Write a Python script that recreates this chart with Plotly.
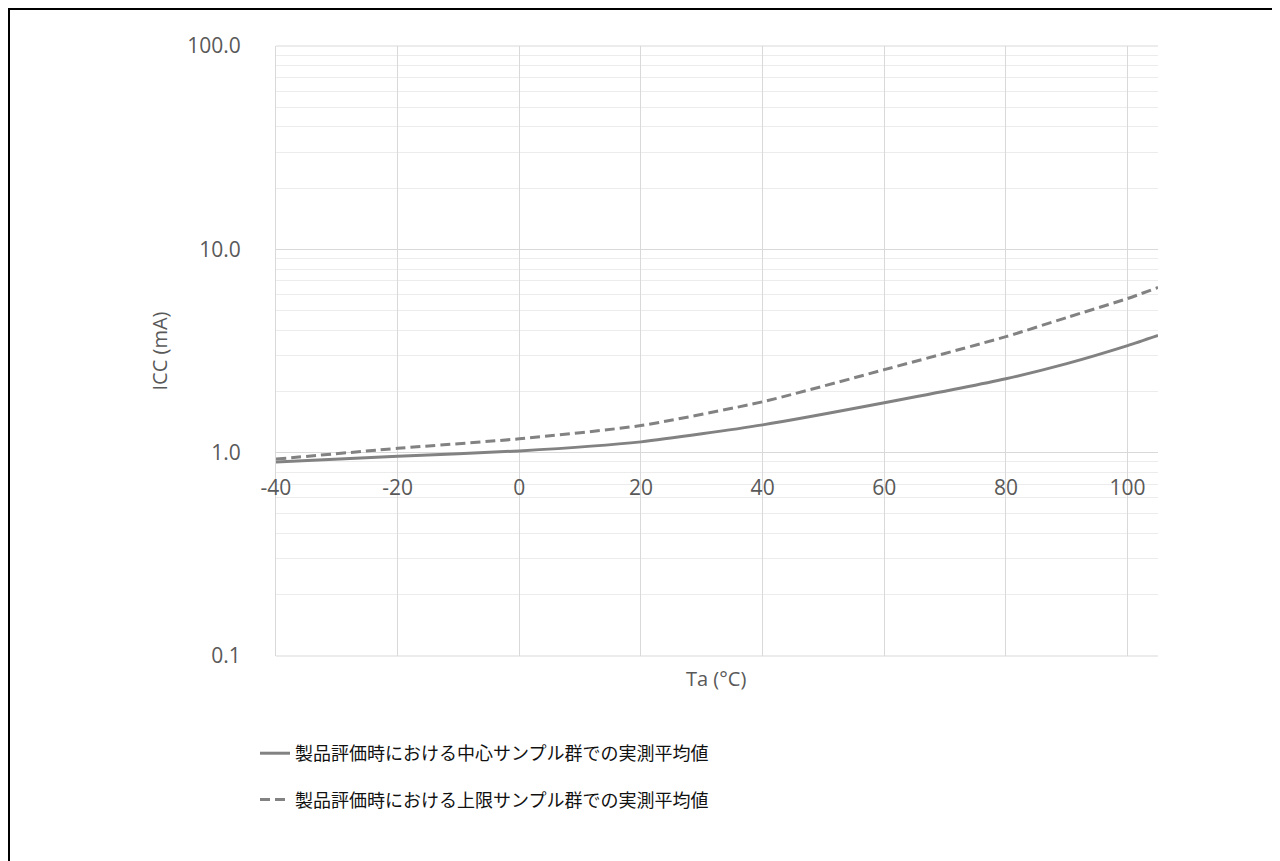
import plotly.graph_objects as go

# Data
ta = [-40, -20, 0, 20, 40, 60, 80, 90, 100, 105]
icc_center = [0.90, 0.96, 1.02, 1.13, 1.37, 1.76, 2.31, 2.74, 3.36, 3.77]
icc_upper = [0.93, 1.05, 1.17, 1.36, 1.78, 2.56, 3.72, 4.62, 5.73, 6.49]

name_center = "製品評価時における中心サンプル群での実測平均値"
name_upper = "製品評価時における上限サンプル群での実測平均値"

x_ticks = [-40, -20, 0, 20, 40, 60, 80, 100]
y_ticks = [0.1, 1.0, 10.0, 100.0]

# The page body adds an 8px margin; positions below are page pixels.
OFF = 8
W, H = 1280 - OFF, 861 - OFF
PL, PR, PT, PB = 276, 1158, 46, 656          # plot area in page pixels
ML, MT = PL - OFF, PT - OFF
MR, MB = W - (PR - OFF), H - (PB - OFF)
PW, PH = PR - PL, PB - PT

def px_x(px):
    return (px - PL) / PW

def px_y(py):
    return (PB - py) / PH

LINE_COLOR = "#828282"
TICK_COLOR = "#595959"
FONT = "Open Sans, Noto Sans CJK JP, sans-serif"

fig = go.Figure()
fig.add_trace(go.Scatter(
    x=ta, y=icc_center, mode="lines", name=name_center,
    line=dict(color=LINE_COLOR, width=3, shape="spline", smoothing=0.6),
    legendgroup="a",
))
fig.add_trace(go.Scatter(
    x=ta, y=icc_upper, mode="lines", name=name_upper,
    line=dict(color=LINE_COLOR, width=3, dash="10px,5px", shape="spline", smoothing=0.6),
    legendgroup="b",
))

fig.update_layout(
    width=W, height=H,
    margin=dict(l=ML, r=MR, t=MT, b=MB, autoexpand=False),
    paper_bgcolor="white", plot_bgcolor="white",
    font=dict(family=FONT, color=TICK_COLOR, size=20),
    showlegend=True,
    legend=dict(
        x=px_x(255), y=px_y(735), xanchor="left", yanchor="top",
        orientation="v", traceorder="grouped", tracegroupgap=20,
        font=dict(family="Noto Sans CJK JP, sans-serif", size=18, color="#111111"),
        bgcolor="rgba(0,0,0,0)",
    ),
    xaxis=dict(
        range=[-40, 105], tickvals=x_ticks, ticktext=[str(v) for v in x_ticks],
        anchor="free", position=1/3,
        showgrid=True, gridcolor="#d9d9d9", gridwidth=1,
        zeroline=False, showline=False, ticks="",
        ticklabelstandoff=20,
        tickfont=dict(size=21, color=TICK_COLOR),
    ),
    yaxis=dict(
        type="log", range=[-1, 2], tickvals=y_ticks, tickformat=".1f",
        showgrid=True, gridcolor="#d9d9d9", gridwidth=1,
        minor=dict(showgrid=True, gridcolor="#ececec", dtick="D1", ticks=""),
        showline=True, linecolor="#d9d9d9", linewidth=1,
        zeroline=False, ticks="",
        ticklabelstandoff=30,
        tickfont=dict(size=21, color=TICK_COLOR),
        title=dict(text="ICC (mA)", standoff=14, font=dict(size=20, color=TICK_COLOR)),
    ),
    annotations=[dict(
        text="Ta (°C)", xref="paper", yref="paper",
        x=px_x(716), y=px_y(678), xanchor="center", yanchor="middle",
        showarrow=False, font=dict(size=20, color=TICK_COLOR),
    )],
    shapes=[
        dict(type="rect", xref="paper", yref="paper",
             x0=px_x(8.5), x1=px_x(1300), y0=px_y(8.5), y1=px_y(880),
             line=dict(color="black", width=3), fillcolor="rgba(0,0,0,0)", layer="above"),
        dict(type="line", xref="paper", yref="paper",
             x0=0, x1=1, y0=1, y1=1, line=dict(color="#d9d9d9", width=1), layer="below"),
        dict(type="line", xref="paper", yref="paper",
             x0=0, x1=1, y0=0, y1=0, line=dict(color="#d9d9d9", width=1), layer="below"),
    ],
)

fig.write_html("out.html")
